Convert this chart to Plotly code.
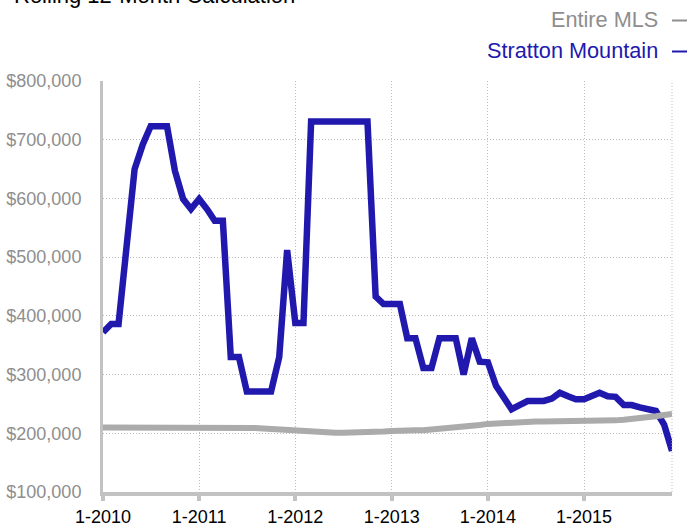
import pandas as pd
import plotly.graph_objects as go

# ---- data ----
months = pd.date_range("2010-01-01", "2015-12-01", freq="MS")

stratton = [
    372, 386, 386, 525, 650, 692, 723, 723, 723, 647, 599, 582,
    599, 581, 562, 562, 330, 330, 271, 271, 271, 271, 330, 512,
    388, 388, 731, 731, 731, 731, 731, 731, 731, 731, 433, 420,
    420, 420, 362, 362, 311, 311, 362, 362, 362, 300, 362, 322,
    321, 281, 261, 241, 248, 255, 255, 255, 259, 269, 263, 258,
    258, 263, 269, 263, 262, 248, 248, 244, 240, 238, 215, 170,
]
stratton = [v * 1000 for v in stratton]

entire_mls = [
    210, 210, 210, 210, 211, 211, 210, 210, 210, 210, 210, 211,
    210, 210, 210, 210, 210, 210, 210, 209, 208, 207, 206, 206,
    205, 204, 203, 202, 201, 201, 201, 201, 201, 201, 202, 203,
    204, 205, 205, 205, 205, 206, 207, 209, 210, 212, 213, 214,
    216, 217, 218, 219, 220, 220, 220, 220, 220, 221, 221, 221,
    221, 221, 222, 222, 222, 223, 224, 225, 227, 229, 231, 233,
]
entire_mls = [v * 1000 for v in entire_mls]

tick_dates = ["2010-01-01", "2011-01-01", "2012-01-01", "2013-01-01", "2014-01-01", "2015-01-01"]
tick_labels = ["1-2010", "1-2011", "1-2012", "1-2013", "1-2014", "1-2015"]
y_ticks = [100000, 200000, 300000, 400000, 500000, 600000, 700000, 800000]

title_text = "Rolling 12-Month Calculation"
series_names = ["Entire MLS", "Stratton Mountain"]

BLUE = "#2119AE"
GRAY_LINE = "#ABABAB"
GRID = "#BDBDBD"
AXIS = "#C2C2C2"
FONT = "Liberation Sans, Arial, Helvetica, sans-serif"
GRID_DASH = "1px,2px"

L, R, T, B = 103, 17, 81, 35
PW = 689 - L - R
PH = 527 - T - B
BOTTOM = 527 - B


def px_x(x):
    return (x - L) / PW


def px_y(y):
    return (BOTTOM - y) / PH


fig = go.Figure()
fig.add_trace(go.Scatter(x=months, y=stratton, mode="lines", name=series_names[1],
                         line=dict(color=BLUE, width=6.5), showlegend=False))
fig.add_trace(go.Scatter(x=months, y=entire_mls, mode="lines", name=series_names[0],
                         line=dict(color=GRAY_LINE, width=6), showlegend=False))

fig.update_layout(
    width=689, height=527,
    margin=dict(l=L, r=R, t=T, b=B, autoexpand=False),
    paper_bgcolor="white", plot_bgcolor="white",
    font=dict(family=FONT),
    showlegend=False,
)

fig.update_xaxes(
    range=["2010-01-01", "2015-12-01"],
    tickvals=tick_dates, ticktext=tick_labels,
    tickfont=dict(size=18, color="black", family=FONT),
    showgrid=True, gridcolor=GRID, griddash=GRID_DASH, gridwidth=1,
    showline=True, linecolor=AXIS, linewidth=4,
    ticks="outside", ticklen=5, tickwidth=4, tickcolor=AXIS,
    ticklabelstandoff=0,
    zeroline=False, automargin=False,
)
fig.update_yaxes(
    range=[100000, 800000],
    tickvals=y_ticks, tickformat="$,.0f",
    tickfont=dict(size=18, color="#8E8E8E", family=FONT),
    showgrid=True, gridcolor=GRID, griddash=GRID_DASH, gridwidth=1,
    showline=True, linecolor=AXIS, linewidth=3,
    ticks="", ticklabelstandoff=15,
    zeroline=False, automargin=False,
)

# right edge dotted line
fig.add_shape(type="line", xref="paper", yref="paper", x0=1, x1=1, y0=0, y1=1,
              line=dict(color=GRID, width=1, dash=GRID_DASH))

# title (cut off at top as in reference)
fig.add_annotation(text=title_text, xref="paper", yref="paper",
                   x=px_x(12), y=px_y(-4), xanchor="left", yanchor="middle",
                   showarrow=False, font=dict(size=22, color="black", family=FONT))

# legend as annotations + dash shapes
legend_colors = ["#8E8E8E", BLUE]
legend_y_px = [19.5, 50.5]
for name, col, ypx in zip(series_names, legend_colors, legend_y_px):
    fig.add_annotation(text=name, xref="paper", yref="paper",
                       x=px_x(660), y=px_y(ypx), xanchor="right", yanchor="middle",
                       showarrow=False, font=dict(size=21.7, color=col, family=FONT))
    fig.add_shape(type="line", xref="paper", yref="paper",
                  x0=px_x(672), x1=px_x(687), y0=px_y(ypx + 1), y1=px_y(ypx + 1),
                  line=dict(color=col, width=2))

fig.write_html("out.html", config={"displayModeBar": False},
               post_script="document.body.style.margin='0';")
